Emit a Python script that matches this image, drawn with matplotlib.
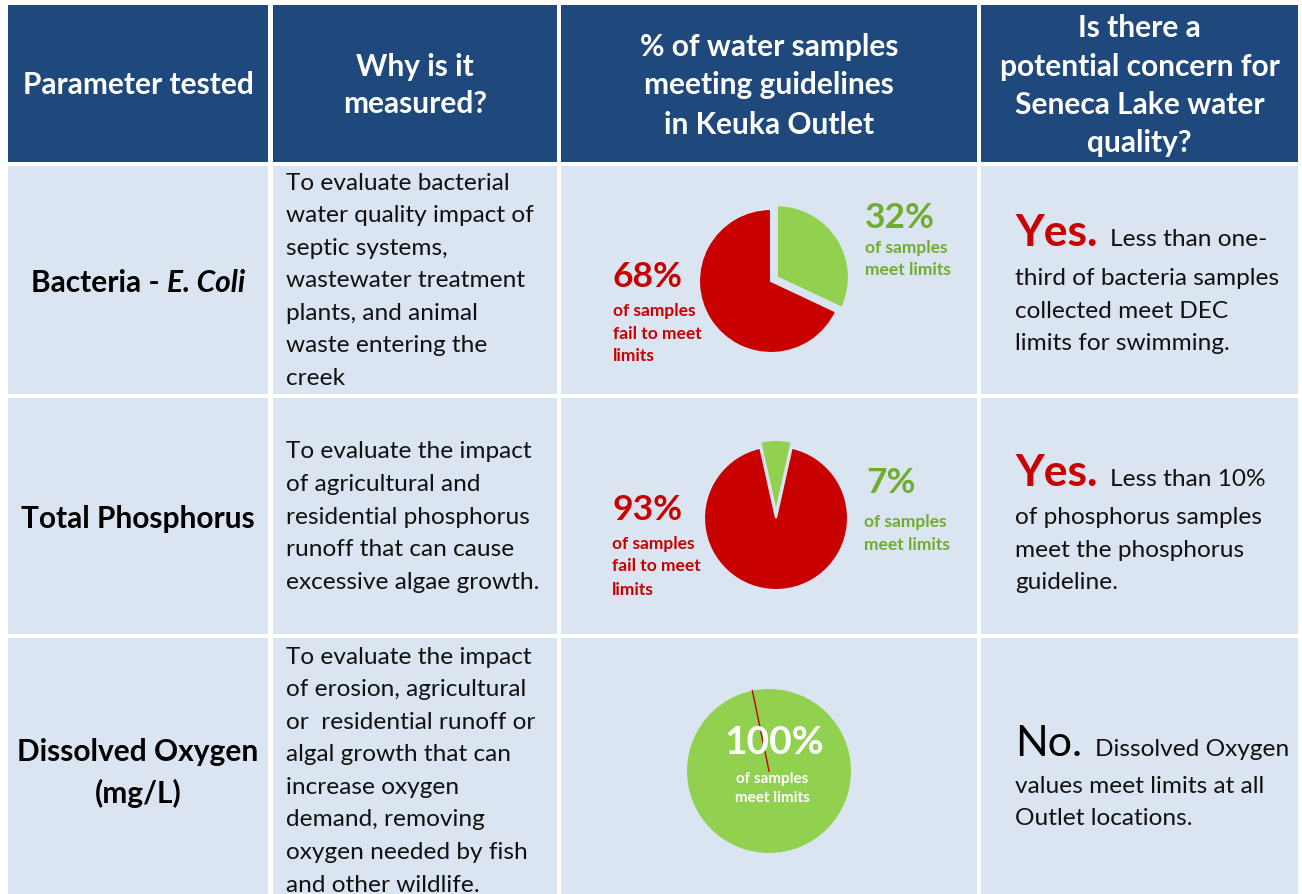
import numpy as np
import matplotlib.pyplot as plt
from matplotlib.patches import Rectangle

W, H = 1302, 894
DPI = 100

HEADER_BLUE = "#1F497D"
CELL_BG = "#DBE5F1"
RED = "#C80000"
GREEN = "#92D050"
GREEN_TEXT = "#70AD2F"

plt.rcParams["font.family"] = ["Lato", "DejaVu Sans"]

# ---- table content ----
headers = [
    ["Parameter tested"],
    ["Why is it", "measured?"],
    ["% of water samples", "meeting guidelines", "in Keuka Outlet"],
    ["Is there a", "potential concern for", "Seneca Lake water", "quality?"],
]
parameters = [["Bacteria - |E. Coli"], ["Total Phosphorus"], ["Dissolved Oxygen", "(mg/L)"]]
reasons = [
    ["To evaluate bacterial", "water quality impact of", "septic systems,",
     "wastewater treatment", "plants, and animal", "waste entering the", "creek"],
    ["To evaluate the impact", "of agricultural and", "residential phosphorus",
     "runoff that can cause", "excessive algae growth."],
    ["To evaluate the impact", "of erosion, agricultural", "or  residential runoff or",
     "algal growth that can", "increase oxygen", "demand, removing",
     "oxygen needed by fish", "and other wildlife."],
]
pct_meet = [32, 7, 100]
pct_fail = [68, 93, 0]
concern_word = ["Yes.", "Yes.", "No."]
concern_lines = [
    ["Less than one-", "third of bacteria samples", "collected meet DEC", "limits for swimming."],
    ["Less than 10%", "of phosphorus samples", "meet the phosphorus", "guideline."],
    ["Dissolved Oxygen", "values meet limits at all", "Outlet locations."],
]

# ---- layout (pixels) ----
cols = [(8, 268), (273, 557), (561, 977), (981, 1298)]
rows = [(5, 162), (166, 394), (398, 634), (638, 900)]

BODY = 17.6
HEAD = 21.5

fig = plt.figure(figsize=(W / DPI, H / DPI), dpi=DPI)
fig.patch.set_facecolor("white")
ax = fig.add_axes([0, 0, 1, 1])
ax.set_xlim(0, W)
ax.set_ylim(H, 0)
ax.axis("off")

for ri, (y0, y1) in enumerate(rows):
    for (x0, x1) in cols:
        color = HEADER_BLUE if ri == 0 else CELL_BG
        ax.add_patch(Rectangle((x0, y0), x1 - x0, y1 - y0, facecolor=color, edgecolor="none"))

# header text
header_y = [[85], [67, 104], [47, 85, 125], [28, 67, 105, 143]]
for ci, lines in enumerate(headers):
    cx = (cols[ci][0] + cols[ci][1]) / 2
    for line, y in zip(lines, header_y[ci]):
        ax.text(cx, y, line, color="white", fontsize=HEAD, fontweight="bold",
                ha="center", va="center")

renderer = fig.canvas.get_renderer()

# parameter column
param_y = [[283], [519], [752, 793]]
for ri, lines in enumerate(parameters):
    cx = (cols[0][0] + cols[0][1]) / 2
    for line, y in zip(lines, param_y[ri]):
        if "|" in line:
            a, b = line.split("|")
            t1 = ax.text(0, y, a, fontsize=HEAD, fontweight="bold", ha="left", va="center")
            t2 = ax.text(0, y, b, fontsize=HEAD, fontweight="bold", style="italic",
                         ha="left", va="center")
            w1 = t1.get_window_extent(renderer).width
            w2 = t2.get_window_extent(renderer).width
            start = cx - (w1 + w2) / 2
            t1.set_x(start)
            t2.set_x(start + w1)
        else:
            ax.text(cx, y, line, fontsize=HEAD, fontweight="bold", ha="center", va="center")

# reasons column
reason_y0 = [183, 452, 657]
for ri, lines in enumerate(reasons):
    for i, line in enumerate(lines):
        ax.text(286, reason_y0[ri] + i * 32.6, line, fontsize=BODY, ha="left",
                va="center", color="#111111")

# concern column
concern_base = [[246, 285, 318, 350], [486, 524, 557, 589], [756, 793, 825]]
for ri in range(3):
    word = concern_word[ri]
    is_yes = word.startswith("Yes")
    tw = ax.text(1015, concern_base[ri][0], word, fontsize=32 if is_yes else 31,
                 fontweight="bold" if is_yes else "normal",
                 color=RED if is_yes else "black", ha="left", va="baseline")
    ww = tw.get_window_extent(renderer).width
    lines = concern_lines[ri]
    ax.text(1015 + ww + 13, concern_base[ri][0], lines[0], fontsize=BODY,
            ha="left", va="baseline", color="#111111")
    for line, y in zip(lines[1:], concern_base[ri][1:]):
        ax.text(1015, y, line, fontsize=BODY, ha="left", va="baseline", color="#111111")


# ---- pies ----
def pie_axes(cx, cy, r, pad=12):
    s = 2 * (r + pad)
    pax = fig.add_axes([(cx - r - pad) / W, 1 - (cy + r + pad) / H, s / W, s / H])
    pax.axis("off")
    return pax, r / (r + pad), 1 / (r + pad)


pie_geom = [(771, 281, 72, 90), (776, 518, 72, 102.6), (769, 771, 82, 101.7)]
explode_px = [7, 6, 0]
for ri in range(3):
    cx, cy, r, start = pie_geom[ri]
    pax, rad, px = pie_axes(cx, cy, r)
    if pct_fail[ri] == 0:
        pax.pie([pct_meet[ri]], colors=[GREEN], startangle=start,
                counterclock=False, radius=rad, wedgeprops=dict(edgecolor="none"))
        # zero-size fail slice drawn as a thin red radius
        ang = np.deg2rad(start)
        pax.plot([0, rad * np.cos(ang)], [0, rad * np.sin(ang)], color=RED, lw=1)
    else:
        pax.pie([pct_meet[ri], pct_fail[ri]], colors=[GREEN, RED], startangle=start,
                counterclock=False, radius=rad, explode=[explode_px[ri] * px, 0],
                wedgeprops=dict(edgecolor=CELL_BG, linewidth=1.5))
    pax.set_xlim(-1, 1)
    pax.set_ylim(-1, 1)
    pax.set_aspect("equal")

# overlay for pie labels
top = fig.add_axes([0, 0, 1, 1], zorder=5)
top.set_xlim(0, W)
top.set_ylim(H, 0)
top.axis("off")
top.patch.set_alpha(0)

PCT = 25.5
SMALL = 12.5
# row 1
top.text(865, 218, f"{pct_meet[0]}%", fontsize=PCT, fontweight="bold", color=GREEN_TEXT,
         ha="left", va="center")
top.text(865, 248, "of samples", fontsize=SMALL, fontweight="bold", color=GREEN_TEXT, ha="left", va="center")
top.text(865, 270, "meet limits", fontsize=SMALL, fontweight="bold", color=GREEN_TEXT, ha="left", va="center")
top.text(613, 277, f"{pct_fail[0]}%", fontsize=PCT, fontweight="bold", color=RED,
         ha="left", va="center")
for line, y in zip(["of samples", "fail to meet", "limits"], [311, 334, 356]):
    top.text(613, y, line, fontsize=SMALL, fontweight="bold", color=RED, ha="left", va="center")
# row 2
top.text(866, 483, f"{pct_meet[1]}%", fontsize=PCT, fontweight="bold", color=GREEN_TEXT,
         ha="left", va="center")
top.text(864, 522, "of samples", fontsize=SMALL, fontweight="bold", color=GREEN_TEXT, ha="left", va="center")
top.text(864, 545, "meet limits", fontsize=SMALL, fontweight="bold", color=GREEN_TEXT, ha="left", va="center")
top.text(612, 510, f"{pct_fail[1]}%", fontsize=PCT, fontweight="bold", color=RED,
         ha="left", va="center")
for line, y in zip(["of samples", "fail to meet", "limits"], [544, 566, 590]):
    top.text(612, y, line, fontsize=SMALL, fontweight="bold", color=RED, ha="left", va="center")
# row 3
top.text(774, 743, f"{pct_meet[2]}%", fontsize=28, fontweight="bold", color="white",
         ha="center", va="center")
top.text(772, 779, "of samples", fontsize=11, fontweight="bold", color="white", ha="center", va="center")
top.text(772, 798, "meet limits", fontsize=11, fontweight="bold", color="white", ha="center", va="center")

fig.savefig("out.png", dpi=DPI)
